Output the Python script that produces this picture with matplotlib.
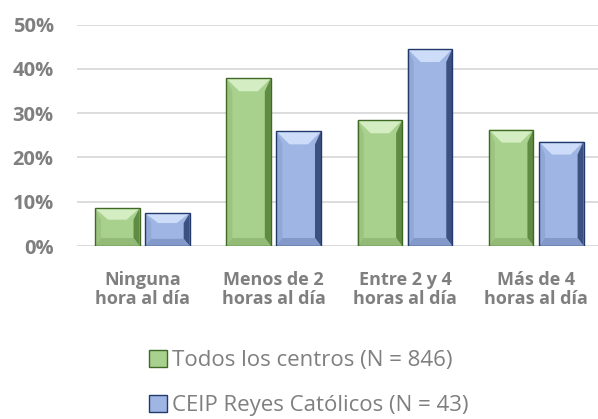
import matplotlib.pyplot as plt
from matplotlib.patches import Polygon, Rectangle, Patch
from matplotlib.ticker import FuncFormatter

categorias = ["Ninguna\nhora al día", "Menos de 2\nhoras al día",
              "Entre 2 y 4\nhoras al día", "Más de 4\nhoras al día"]
todos = [8.5, 37.9, 28.4, 26.3]
reyes = [7.4, 25.9, 44.5, 23.6]
series = ["Todos los centros (N = 846)", "CEIP Reyes Católicos (N = 43)"]

gris = "#7f7f7f"
fuente = "Open Sans"
# face, top bevel, left edge, right edge, bottom bevel, outline
verde = ["#a9d18e", "#d4edc3", "#9cc480", "#5f8b42", "#93bb77", "#3f6a26"]
azul = ["#9fb5e3", "#cddcf8", "#91a7d6", "#3d5180", "#8399c9", "#22396b"]

W, H = 598, 419
fig = plt.figure(figsize=(W / 100, H / 100), dpi=100)
ax = fig.add_axes([76.7 / W, 1 - 246 / H, (W - 76.7) / W, (246 - 24.7) / H])
ax.set_xlim(-0.5, -0.5 + (W - 76.7) / 131.3)
ax.set_ylim(0, 50)

# pixel sizes to data units
px_x = (ax.get_xlim()[1] - ax.get_xlim()[0]) / (W - 76.7)
px_y = 50 / (246 - 24.7)


def barra(x, h, w, c):
    x0, x1 = x - w / 2, x + w / 2
    hp = h / px_y
    t = min(13, hp * 0.3) * px_y
    b = min(8, hp * 0.22) * px_y
    s = 6 * px_x
    s2 = 13 * px_x
    ax.add_patch(Rectangle((x0, 0), w, h, facecolor=c[0], edgecolor="none", zorder=3))
    ax.add_patch(Polygon([(x0, 0), (x0, h), (x0 + s, h - t), (x0 + s, b)],
                         facecolor=c[2], edgecolor="none", zorder=3))
    ax.add_patch(Polygon([(x1, 0), (x1, h), (x1 - s, h - t), (x1 - s, b)],
                         facecolor=c[3], edgecolor="none", zorder=3))
    ax.add_patch(Polygon([(x0, 0), (x1, 0), (x1 - s, b), (x0 + s, b)],
                         facecolor=c[4], edgecolor="none", zorder=3))
    ax.add_patch(Polygon([(x0, h), (x1, h), (x1 - s2, h - t), (x0 + s2, h - t)],
                         facecolor=c[1], edgecolor="none", zorder=3))
    ax.add_patch(Rectangle((x0, 0), w, h, facecolor="none", edgecolor=c[5],
                           linewidth=1.0, zorder=4))


ancho = 0.339
desp = 0.191
for i in range(len(categorias)):
    barra(i - desp, todos[i], ancho, verde)
    barra(i + desp, reyes[i], ancho, azul)

ax.set_yticks(range(0, 51, 10))
ax.yaxis.set_major_formatter(FuncFormatter(lambda v, p: f"{v:.0f}%"))
ax.grid(axis="y", color="#d9d9d9", linewidth=1.3, zorder=0)
ax.set_axisbelow(True)
for sp in ax.spines.values():
    sp.set_visible(False)
ax.tick_params(length=0)
ax.set_xticks(range(len(categorias)))
ax.set_xticklabels(categorias, linespacing=1.05)
ax.tick_params(axis="x", pad=18)
ax.tick_params(axis="y", pad=16.5)
for lab in ax.get_xticklabels():
    lab.set_fontfamily(fuente)
    lab.set_fontweight("bold")
    lab.set_fontsize(13)
    lab.set_color(gris)
for lab in ax.get_yticklabels():
    lab.set_fontfamily(fuente)
    lab.set_fontweight("bold")
    lab.set_fontsize(14.5)
    lab.set_color(gris)

handles = [Patch(facecolor=verde[0], edgecolor=verde[5]),
           Patch(facecolor=azul[0], edgecolor=azul[5])]
fig.legend(handles, series, loc="center left", bbox_to_anchor=(149 / W, 1 - 383 / H),
           frameon=False, prop={"family": fuente, "size": 16}, labelcolor=gris,
           handlelength=0.8, handleheight=0.8, handletextpad=0.22, labelspacing=1.1,
           borderpad=0, borderaxespad=0)

fig.savefig("out.png", dpi=100)
